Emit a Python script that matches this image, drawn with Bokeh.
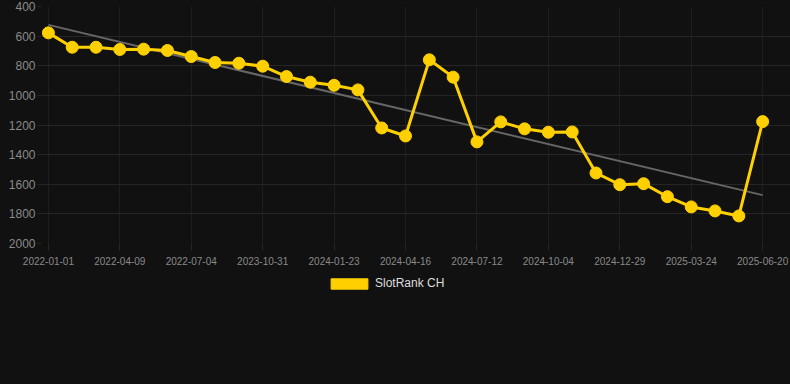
import numpy as np
from bokeh.plotting import figure
from bokeh.layouts import column
from bokeh.models import Range1d, FixedTicker, Legend, LegendItem, ColumnDataSource
from bokeh.embed import file_html
from bokeh.resources import INLINE

# ---- data ----
tick_labels = ["2022-01-01", "2022-04-09", "2022-07-04", "2023-10-31", "2024-01-23",
               "2024-04-16", "2024-07-12", "2024-10-04", "2024-12-29", "2025-03-24",
               "2025-06-20"]
ranks = [578, 675, 675, 690, 688, 697, 738, 778, 783, 803, 873, 911, 932, 963,
         1220, 1274, 760, 877, 1314, 1179, 1226, 1249, 1247, 1524, 1603, 1596,
         1684, 1753, 1780, 1814, 1177]
series_name = "SlotRank CH"
y_ticks = [400, 600, 800, 1000, 1200, 1400, 1600, 1800, 2000]

idx = list(range(len(ranks)))
coef = np.polyfit(idx, ranks, 1)
trend_x = [idx[0], idx[-1]]
trend_y = [float(np.polyval(coef, trend_x[0])), float(np.polyval(coef, trend_x[1]))]

BG = "#111111"
GRID = "#262626"
YELLOW = "#FFD000"
FONT = "Liberation Sans"

p = figure(frame_width=749, frame_height=237, output_backend="svg", toolbar_location=None,
           x_range=Range1d(-0.29, 31.17), y_range=Range1d(2000, 400),
           min_border_left=41, min_border_right=0, min_border_top=6,
           min_border_bottom=30, background_fill_color=BG,
           border_fill_color=BG, outline_line_color=None)

p.line(trend_x, trend_y, line_color="#666666", line_width=2)
src = ColumnDataSource(data=dict(x=idx, y=ranks))
p.line("x", "y", source=src, line_color=YELLOW, line_width=3)
p.scatter("x", "y", source=src, size=12, fill_color=YELLOW, line_color=YELLOW)

# axes
p.xaxis.ticker = FixedTicker(ticks=[i * 3 for i in range(len(tick_labels))])
p.xaxis.major_label_overrides = {i * 3: lab for i, lab in enumerate(tick_labels)}
p.yaxis.ticker = FixedTicker(ticks=y_ticks)
for ax in (p.xaxis[0], p.yaxis[0]):
    ax.axis_line_color = None
    ax.major_tick_line_color = GRID
    ax.minor_tick_line_color = None
    ax.major_label_text_font = FONT
    ax.major_label_text_color = "#8a8a8a"
p.xaxis.major_tick_out = 7
p.xaxis.major_tick_in = 0
p.xaxis.major_label_text_font_size = "10px"
p.xaxis.major_label_standoff = 6
p.yaxis.major_tick_out = 4
p.yaxis.major_tick_in = 0
p.yaxis.major_label_text_font_size = "12px"
p.yaxis.major_label_standoff = 2

p.xgrid.grid_line_color = "#1e1e1e"
p.ygrid.grid_line_color = GRID

# legend strip below the chart
lg = figure(width=790, height=111, output_backend="svg", toolbar_location=None,
            x_range=Range1d(0, 1), y_range=Range1d(0, 1),
            min_border=0, background_fill_color=BG, border_fill_color=BG,
            outline_line_color=None)
lg.axis.visible = False
lg.grid.visible = False
legend_glyph = lg.quad(left=[np.nan], right=[np.nan], top=[np.nan], bottom=[np.nan],
                       fill_color=YELLOW, line_color=YELLOW)
legend = Legend(items=[LegendItem(label=series_name, renderers=[legend_glyph])],
                orientation="horizontal", location=(285, 94),
                background_fill_alpha=0, border_line_color=None,
                label_text_font=FONT, label_text_font_size="12px",
                label_text_color="#dddddd", glyph_width=46, glyph_height=13,
                label_standoff=3, margin=0, padding=4)
lg.add_layout(legend)

layout = column(p, lg, spacing=0)
html = file_html(layout, INLINE)
html = html.replace("<head>", "<head><style>html,body{margin:0;padding:0;background:#111111;overflow:hidden;}</style>", 1)
open("out.html", "w").write(html)
